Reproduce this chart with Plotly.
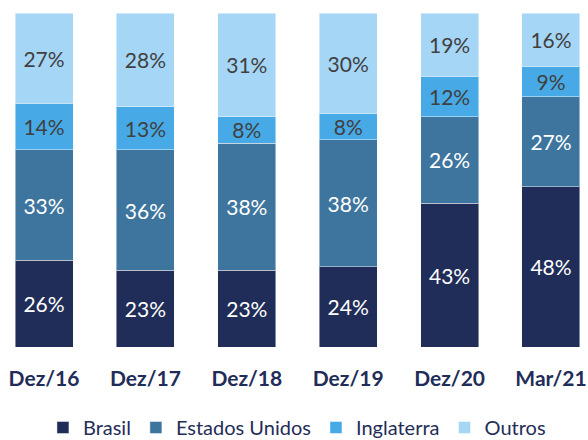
import plotly.graph_objects as go

# Composição por país (% do total)
periodos = ["Dez/16", "Dez/17", "Dez/18", "Dez/19", "Dez/20", "Mar/21"]
brasil = [26, 23, 23, 24, 43, 48]
estados_unidos = [33, 36, 38, 38, 26, 27]
inglaterra = [14, 13, 8, 8, 12, 9]
outros = [27, 28, 31, 30, 19, 16]

series = [
    ("Brasil", brasil, "#1F2D58", "white"),
    ("Estados Unidos", estados_unidos, "#3E759E", "white"),
    ("Inglaterra", inglaterra, "#47AAE6", "#404040"),
    ("Outros", outros, "#A6D6F6", "#404040"),
]

FONT = "Lato, Calibri, Carlito, sans-serif"
NAVY = "#1F2D58"

fig = go.Figure()
for nome, valores, cor, cor_texto in series:
    fig.add_trace(go.Bar(
        name=nome,
        x=periodos,
        y=valores,
        marker=dict(color=cor, line=dict(color="rgba(255,255,255,0.45)", width=1)),
        text=[f"{v}%" for v in valores],
        textposition="inside",
        insidetextanchor="middle",
        textangle=0,
        constraintext="none",
        textfont=dict(family=FONT, size=21, color=cor_texto),
        hoverinfo="skip",
    ))

fig.update_layout(
    barmode="stack",
    bargap=0.428,
    width=588,
    height=440,
    margin=dict(l=0, r=0, t=13, b=93, autoexpand=False),
    paper_bgcolor="white",
    plot_bgcolor="white",
    font=dict(family=FONT, color=NAVY),
    showlegend=True,
    legend=dict(
        orientation="h",
        x=0.505,
        xanchor="center",
        y=-0.241,
        yanchor="middle",
        font=dict(family=FONT, size=20, color=NAVY),
        traceorder="normal",
        itemclick=False,
        itemwidth=30,
        tracegroupgap=0,
    ),
    xaxis=dict(
        range=[-0.434, 5.365],
        automargin=False,
        showgrid=False,
        showline=False,
        zeroline=False,
        ticks="",
        ticklabelstandoff=17,
        tickfont=dict(family=FONT, size=21, color=NAVY, weight="bold"),
    ),
    yaxis=dict(
        range=[0, 100],
        automargin=False,
        visible=False,
        showgrid=False,
        zeroline=False,
    ),
)

fig.write_html("out.html")
